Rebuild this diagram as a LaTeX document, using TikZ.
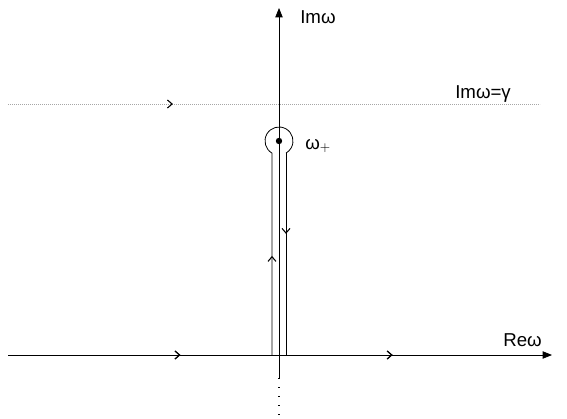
\documentclass[tikz,border=0pt]{standalone}
\usepackage{fontspec}
\setmainfont{Liberation Sans}
\usetikzlibrary{arrows.meta,decorations.markings}
\tikzset{
  axis/.style={line width=0.6pt,-{Triangle[length=7pt,width=5.5pt]}},
  pathline/.style={line width=0.6pt},
  midarrow/.style={postaction={decorate},decoration={markings,mark=at position #1 with {\arrow[black,solid]{Straight Barb[length=3.5pt,width=6pt,line width=0.8pt]}}}},
  lbl/.style={inner sep=0pt,anchor=west,font=\fontsize{14}{16}\selectfont}
}
\begin{document}
\begin{tikzpicture}[x=0.75pt,y=0.75pt]
\useasboundingbox (0,0) rectangle (567,418);
% coordinates
\coordinate (vbot) at (279,40);
\coordinate (vend) at (279,0);
\coordinate (vtop) at (279,410);
\coordinate (hl) at (8,63);
\coordinate (hr) at (552,63);
\coordinate (gl) at (8,314);
\coordinate (gr) at (540,314);
\coordinate (C) at (279,277);
\coordinate (kl) at (272,63);
\coordinate (kr) at (286,63);
% dotted line Im w = gamma
\draw[gray!70,line width=0.5pt,dash pattern=on 0.6pt off 0.9pt,midarrow=0.31] (gl) -- (gr);
% horizontal axis
\draw[axis,midarrow=0.317,midarrow=0.707] (hl) -- (hr);
% vertical axis
\draw[axis] (vbot) -- (vtop);
\draw[line width=0.8pt,dash pattern=on 0.8pt off 6pt] (vbot) -- (vend);
% keyhole contour
\draw[pathline,midarrow=0.36] (kl) -- (272,264.88) arc[start angle=240,end angle=-60,radius=14];
\draw[pathline,midarrow=0.40] (286,264.88) -- (kr);
% pole
\fill (C) circle[radius=3.2];
% labels
\node[lbl] (im) at (300,401) {Imω};
\node[lbl] (img) at (455,324) {Imω=γ};
\node[lbl] (wp) at (305,272) {ω$_+$};
\node[lbl] (re) at (503,78) {Reω};
\end{tikzpicture}
\end{document}
